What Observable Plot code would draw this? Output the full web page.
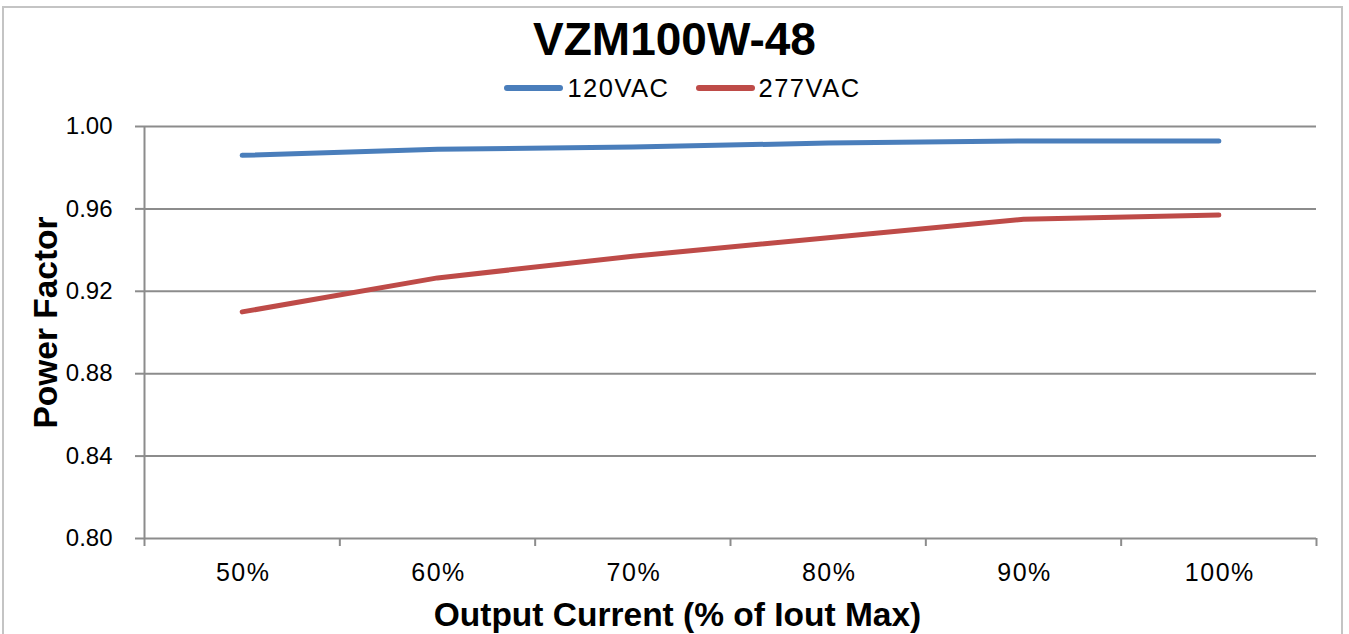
<!DOCTYPE html>
<html>
<head>
<meta charset="utf-8">
<script src="https://cdn.jsdelivr.net/npm/d3@7"></script>
<script src="https://cdn.jsdelivr.net/npm/@observablehq/plot@0.6"></script>
<style>
  html, body { margin: 0; padding: 0; background: #fff; width: 1349px; height: 634px; overflow: hidden; }
  body { position: relative; font-family: "Liberation Sans", Arial, Helvetica, sans-serif; }
  #frame { position: absolute; left: 2px; top: 6px; width: 1341px; height: 640px; border: 2px solid #c4c4c4; box-sizing: border-box; }
  #title { position: absolute; left: 0; width: 1349px; top: 13px; text-align: center; font-size: 46px; font-weight: bold; color: #000; line-height: 52px; }
  #legend { position: absolute; left: 8px; width: 1349px; top: 74px; display: flex; justify-content: center; align-items: center; font-size: 25.5px; letter-spacing: 1.5px; color: #000; line-height: 28px; }
  .item { display: flex; align-items: center; margin: 0 13px; }
  .sw { display: inline-block; width: 59px; height: 6px; border-radius: 3px; margin-right: 4px; }
  #chart { position: absolute; left: 0; top: 100px; }
  .xlab text { letter-spacing: 1.5px; }
</style>
</head>
<body>
<div id="frame"></div>
<div id="title"></div>
<div id="legend"></div>
<div id="chart"></div>
<script>
const chartTitle = "VZM100W-48";
const categories = ["50%", "60%", "70%", "80%", "90%", "100%"];
const seriesNames = ["120VAC", "277VAC"];
const seriesColors = ["#4a7ebb", "#be4b48"];
const values120 = [0.986, 0.989, 0.990, 0.992, 0.993, 0.993];
const values277 = [0.910, 0.9265, 0.937, 0.946, 0.955, 0.957];
const yTicks = [0.80, 0.84, 0.88, 0.92, 0.96, 1.00];
const yLabel = "Power Factor";
const xLabel = "Output Current (% of Iout Max)";

const rows = [];
[values120, values277].forEach((vals, s) => {
  vals.forEach((v, i) => rows.push({series: seriesNames[s], cat: categories[i], i, value: v}));
});

document.getElementById("title").textContent = chartTitle;
const legend = document.getElementById("legend");
seriesNames.forEach((n, s) => {
  const it = document.createElement("div");
  it.className = "item";
  const sw = document.createElement("span");
  sw.className = "sw";
  sw.style.background = seriesColors[s];
  const tx = document.createElement("span");
  tx.textContent = n;
  it.appendChild(sw); it.appendChild(tx);
  legend.appendChild(it);
});

const gridColor = "#8c8c8c";
const boundaries = d3.range(categories.length + 1);
const centers = categories.map((c, i) => i + 0.5);

const plot = Plot.plot({
  width: 1349,
  height: 534,
  marginLeft: 144,
  marginRight: 33,
  marginTop: 26,
  marginBottom: 96,
  style: {fontFamily: "'Liberation Sans', Arial, Helvetica, sans-serif", background: "transparent", overflow: "visible"},
  x: {type: "linear", domain: [0, categories.length], axis: null},
  y: {domain: [0.80, 1.00], axis: null},
  color: {domain: seriesNames, range: seriesColors},
  marks: [
    Plot.ruleY(yTicks, {stroke: gridColor, strokeWidth: 2}),
    Plot.ruleX([0], {stroke: gridColor, strokeWidth: 2}),
    Plot.axisY({ticks: yTicks, tickFormat: d3.format(".2f"), tickSize: 9, tickPadding: 23, fontSize: 24, stroke: gridColor, strokeWidth: 2, fill: "#000", label: null}),
    Plot.axisX({ticks: boundaries, tickFormat: () => "", tickSize: 8, stroke: gridColor, strokeWidth: 2, label: null}),
    Plot.axisX({ticks: centers, tickFormat: (d) => categories[Math.round(d - 0.5)], tickSize: 0, tickPadding: 25, fontSize: 25, fill: "#000", label: null, className: "xlab", dx: 1}),
    Plot.line(rows, {x: (d) => d.i + 0.5, y: "value", z: "series", stroke: "series", strokeWidth: 5, strokeLinecap: "round", strokeLinejoin: "round"}),
    Plot.text([yLabel], {frameAnchor: "left", textAnchor: "middle", rotate: -90, lineAnchor: "bottom", dx: -88, dy: -10, fontSize: 33.5, fontWeight: "bold", fill: "#000"}),
    Plot.text([xLabel], {frameAnchor: "bottom", textAnchor: "middle", lineAnchor: "bottom", dx: -53, dy: 87, fontSize: 33.5, fontWeight: "bold", fill: "#000"})
  ]
});
document.getElementById("chart").appendChild(plot);
</script>
</body>
</html>
